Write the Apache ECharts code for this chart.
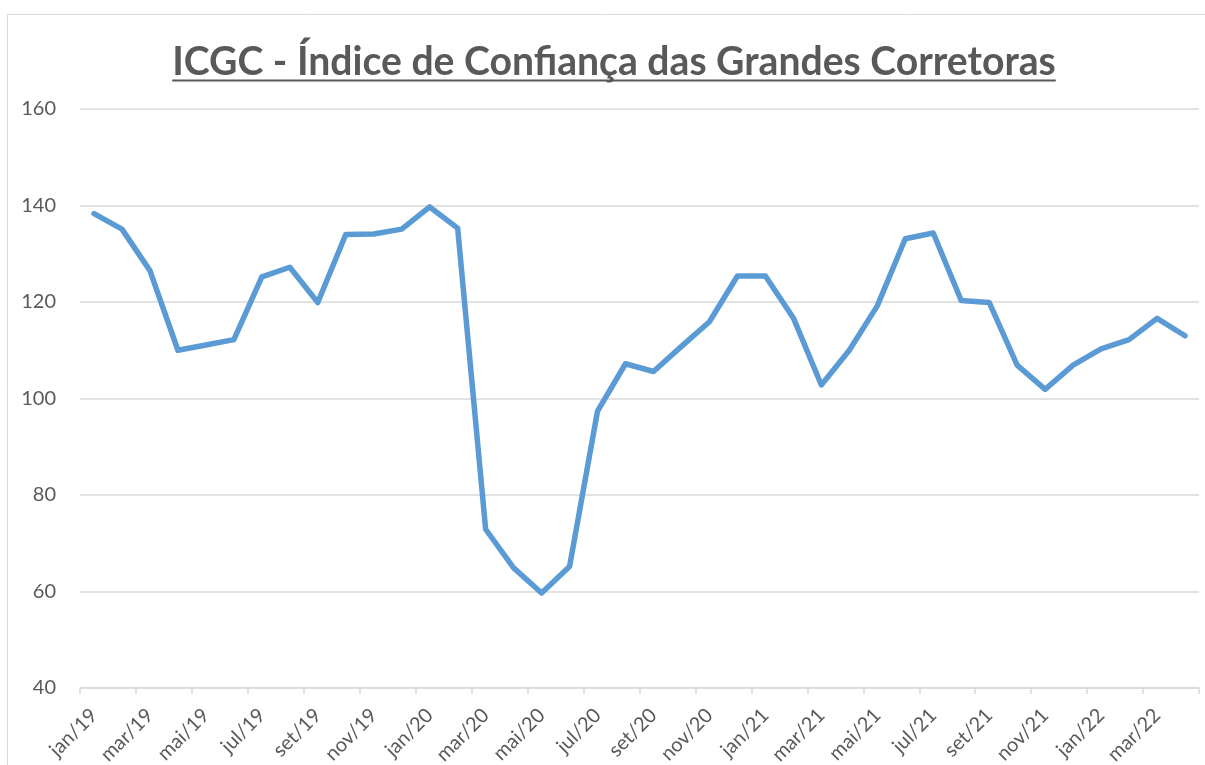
<!DOCTYPE html>
<html>
<head>
<meta charset="utf-8">
<script src="https://cdn.jsdelivr.net/npm/echarts@6/dist/echarts.min.js"></script>
<style>
html,body{margin:0;padding:0;background:#fff;}
#chart{width:1205px;height:765px;}
</style>
</head>
<body>
<div id="chart"></div>
<script>
const titleText = 'ICGC - Índice de Confiança das Grandes Corretoras';
const months = [
  'jan/19','fev/19','mar/19','abr/19','mai/19','jun/19','jul/19','ago/19','set/19','out/19','nov/19','dez/19',
  'jan/20','fev/20','mar/20','abr/20','mai/20','jun/20','jul/20','ago/20','set/20','out/20','nov/20','dez/20',
  'jan/21','fev/21','mar/21','abr/21','mai/21','jun/21','jul/21','ago/21','set/21','out/21','nov/21','dez/21',
  'jan/22','fev/22','mar/22','abr/22'
];
const icgc = [
  138.3,135.1,126.5,110.0,111.1,112.2,125.2,127.2,119.9,134.0,134.1,135.1,
  139.7,135.3,72.9,64.9,59.7,65.2,97.4,107.2,105.6,110.8,115.9,125.4,
  125.4,116.7,102.8,110.0,119.2,133.1,134.3,120.3,119.9,106.9,101.9,106.9,
  110.3,112.2,116.6,113.0
];
const yTicks = [40, 60, 80, 100, 120, 140, 160];

const FONT = 'Lato, "Open Sans", sans-serif';
const GREY = '#595959';

// fit title width to reference
const cv = document.createElement('canvas').getContext('2d');
cv.font = 'bold 40px ' + FONT;
const w40 = cv.measureText(titleText).width;
const titleSize = 40 * 884 / w40;
cv.font = 'bold ' + titleSize + 'px ' + FONT;
const titleW = cv.measureText(titleText).width;
const titleCx = 614;

const chart = echarts.init(document.getElementById('chart'));
chart.setOption({
  animation: false,
  backgroundColor: '#fff',
  grid: { left: 80, right: 6, top: 109, bottom: 77, containLabel: false, outerBoundsMode: 'none' },
  graphic: [
    { type: 'rect', shape: { x: 7.5, y: 14.5, width: 1400, height: 1000 },
      style: { fill: 'none', stroke: '#d9d9d9', lineWidth: 1 }, silent: true },
    { type: 'text', x: titleCx, y: 62,
      style: { text: titleText, fill: GREY, font: 'bold ' + titleSize + 'px ' + FONT,
               align: 'center', verticalAlign: 'middle' } },
    { type: 'line', shape: { x1: titleCx - titleW / 2, y1: 80.5, x2: titleCx + titleW / 2, y2: 80.5 },
      style: { stroke: GREY, lineWidth: 2 } }
  ],
  xAxis: {
    type: 'category',
    data: months,
    boundaryGap: true,
    axisLine: { lineStyle: { color: '#d9d9d9', width: 1.5 } },
    axisTick: { show: true, interval: 1, length: 6, lineStyle: { color: '#d9d9d9', width: 1.5 } },
    axisLabel: { interval: 1, rotate: 45, color: GREY, fontSize: 20, fontFamily: FONT, margin: 24 },
    splitLine: { show: false }
  },
  yAxis: {
    type: 'value',
    min: yTicks[0],
    max: yTicks[yTicks.length - 1],
    interval: 20,
    axisLine: { show: false },
    axisTick: { show: false },
    axisLabel: { color: GREY, fontSize: 20, fontFamily: FONT, margin: 24 },
    splitLine: { lineStyle: { color: '#d9d9d9', width: 1.5 } }
  },
  series: [{
    type: 'line',
    data: icgc,
    symbol: 'none',
    lineStyle: { color: '#5B9BD5', width: 5.5, join: 'round', cap: 'round' },
    itemStyle: { color: '#5B9BD5' }
  }]
});
</script>
</body>
</html>
